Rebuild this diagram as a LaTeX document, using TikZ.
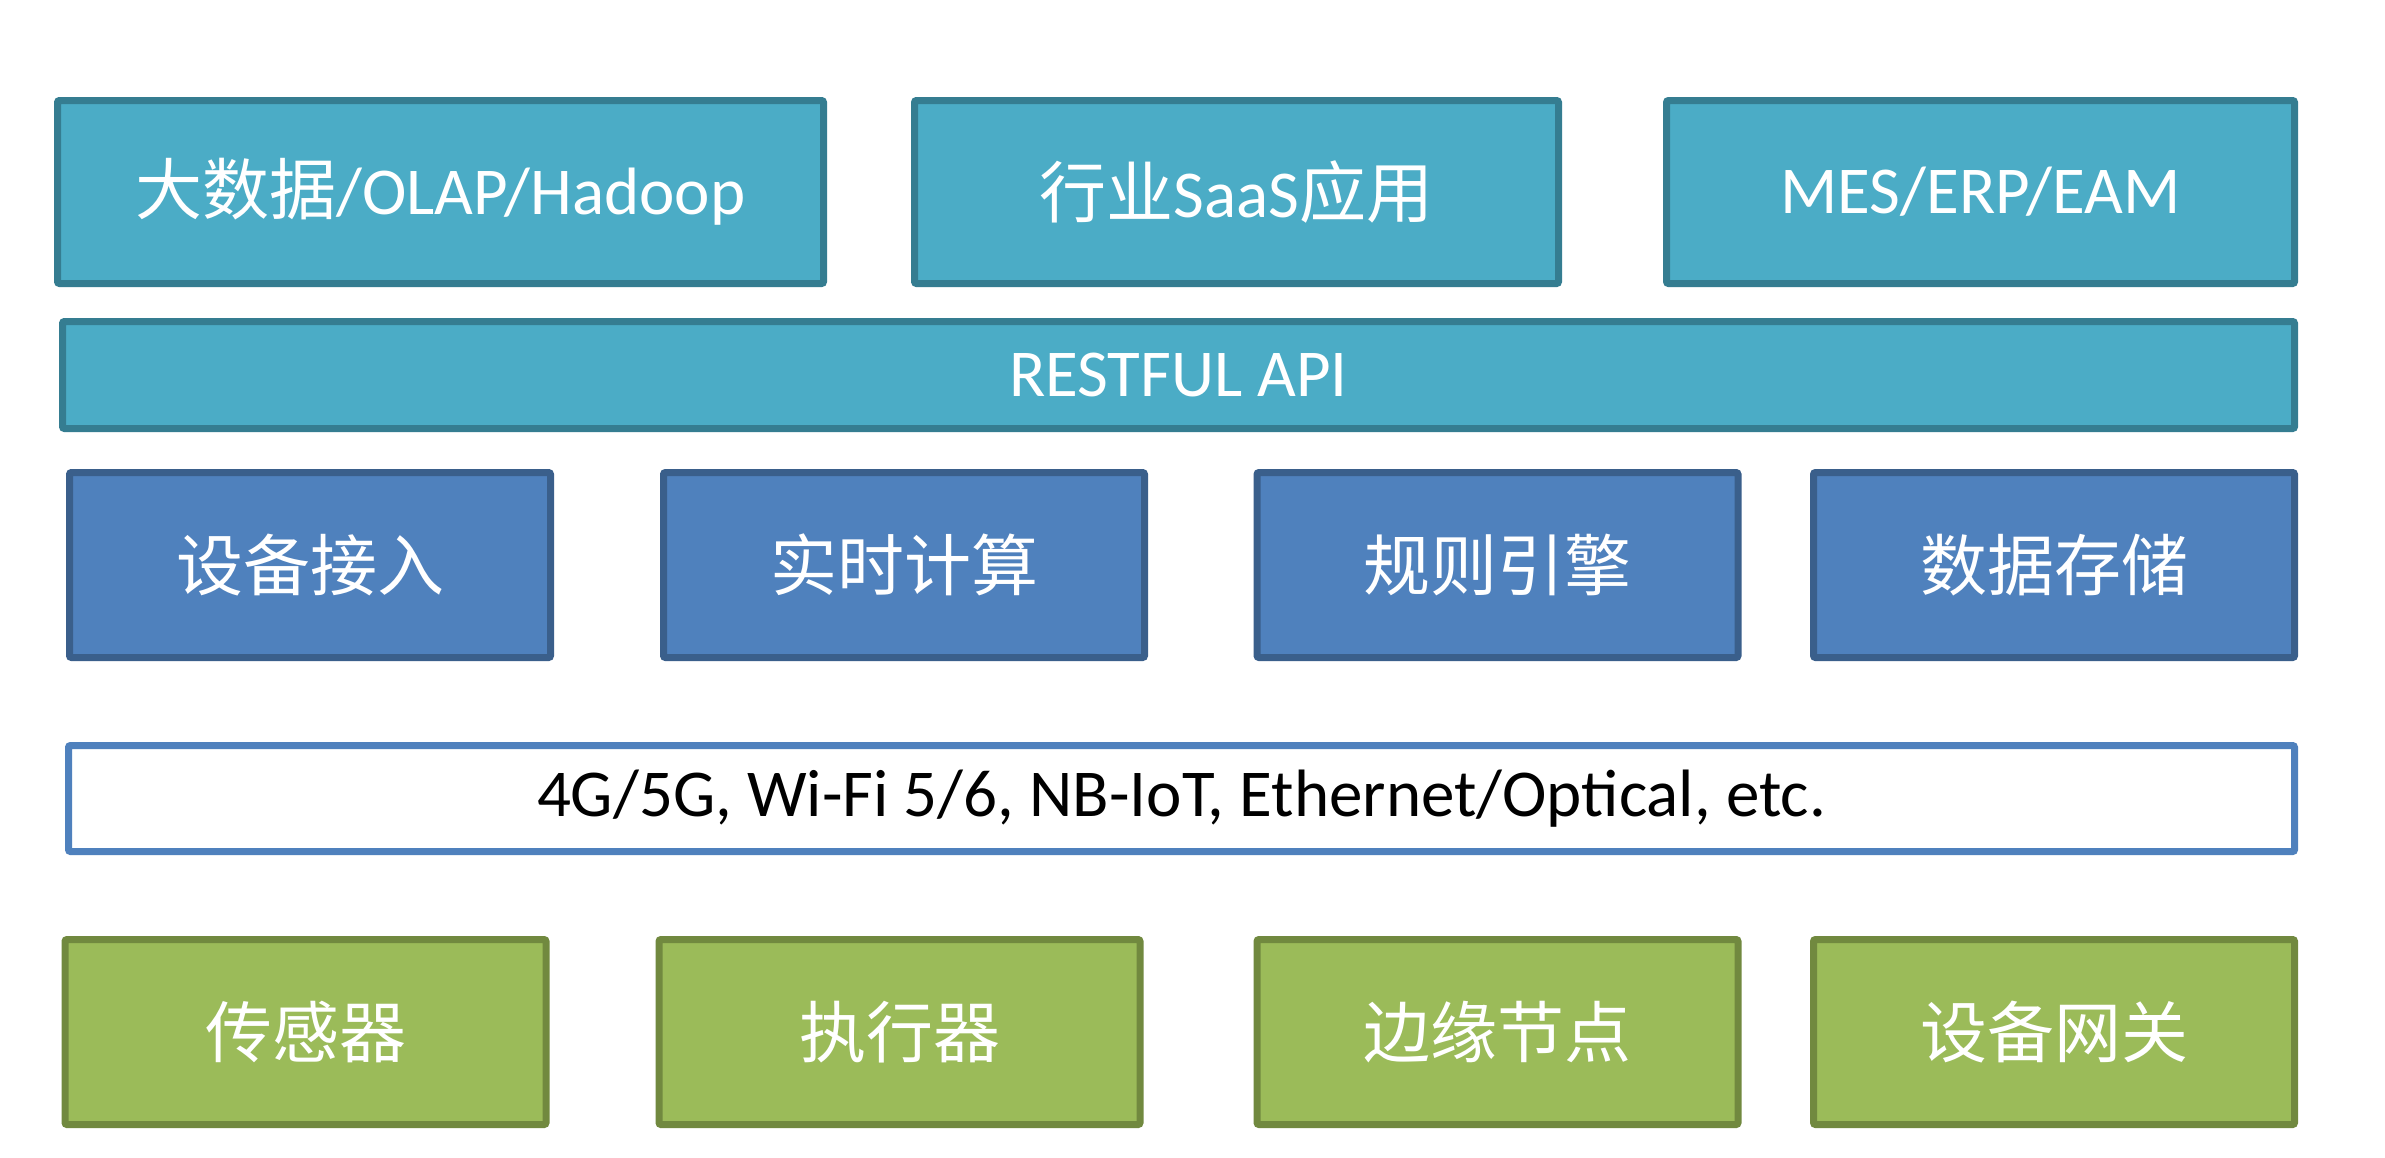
\documentclass[tikz,border=0pt]{standalone}
\usepackage{fontspec}
\setmainfont{Carlito}
\newfontfamily\cjk{Noto Sans CJK SC}
\definecolor{tealfill}{HTML}{4BACC6}
\definecolor{tealline}{HTML}{357D91}
\definecolor{bluefill}{HTML}{4F81BD}
\definecolor{blueline}{HTML}{3A5F8B}
\definecolor{greenfill}{HTML}{9BBB59}
\definecolor{greenline}{HTML}{71893F}
\newcommand\U{0.3pt}
\tikzset{
  basebox/.style={rectangle, inner sep=0pt, line width=2.1pt, rounded corners=0.6pt,
    font=\fontsize{20.1}{24}\selectfont},
  tealbox/.style={basebox, draw=tealline, fill=tealfill, text=white},
  bluebox/.style={basebox, draw=blueline, fill=bluefill, text=white},
  greenbox/.style={basebox, draw=greenline, fill=greenfill, text=white},
  netbox/.style={basebox, draw=bluefill, fill=white, text=black},
  toprow/.style={minimum height=183*\U},
  midrow/.style={minimum height=185*\U, minimum width=481*\U},
}
\begin{document}
\begin{tikzpicture}[x=0.3pt, y=-0.3pt]
\useasboundingbox[fill=white] (0,0) rectangle (2385,1157);
% top row
\node[tealbox, toprow, minimum width=766*\U] (big) at (440.5,192) {{\cjk 大数据}/OLAP/Hadoop};
\node[tealbox, toprow, minimum width=644*\U] (saas) at (1236.5,192) {{\cjk 行业}SaaS{\cjk 应用}};
\node[tealbox, toprow, minimum width=628*\U] (mes) at (1980.5,192) {MES/ERP/EAM};
% API bar
\node[tealbox, minimum width=2232*\U, minimum height=107*\U] (api) at (1178.5,375) {RESTFUL API};
% platform row
\node[bluebox, midrow] (access) at (310,565) {\cjk 设备接入};
\node[bluebox, midrow] (stream) at (904,565) {\cjk 实时计算};
\node[bluebox, midrow] (rules) at (1497.5,565) {\cjk 规则引擎};
\node[bluebox, midrow] (store) at (2054,565) {\cjk 数据存储};
% network bar
\node[netbox, minimum width=2226*\U, minimum height=106*\U] (net) at (1181.5,798.5) {4G/5G, Wi-Fi 5/6, NB-IoT, Ethernet/Optical, etc.};
% device row
\node[greenbox, midrow] (sensor) at (305.5,1032) {\cjk 传感器};
\node[greenbox, midrow] (actuator) at (899.5,1032) {\cjk 执行器};
\node[greenbox, midrow] (edge) at (1497.5,1032) {\cjk 边缘节点};
\node[greenbox, midrow] (gateway) at (2054,1032) {\cjk 设备网关};
\end{tikzpicture}
\end{document}
